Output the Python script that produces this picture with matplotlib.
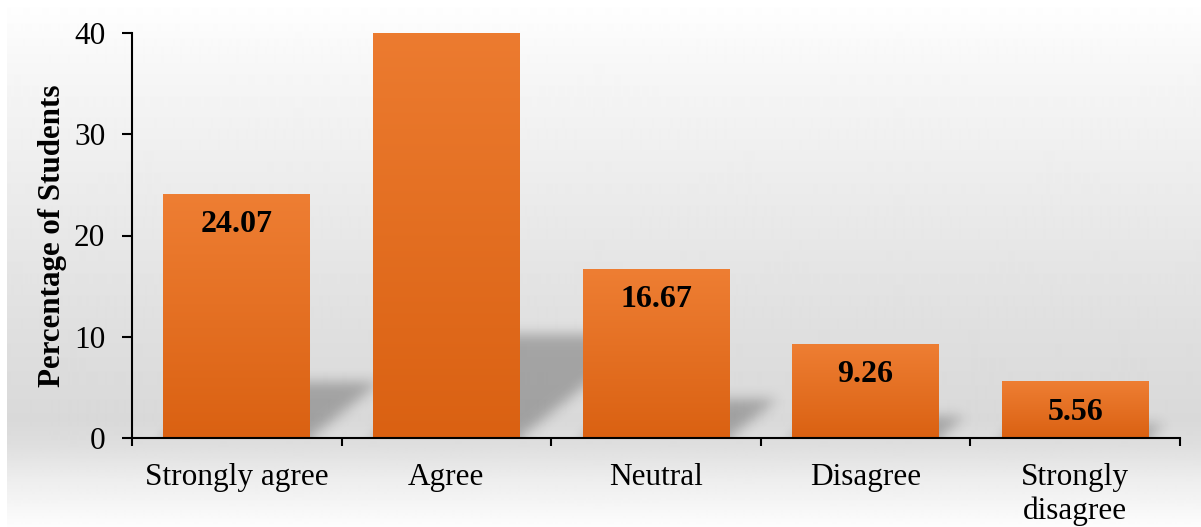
import numpy as np
import matplotlib
matplotlib.use("Agg")
import matplotlib.pyplot as plt
from matplotlib.path import Path
from matplotlib.colors import LinearSegmentedColormap

categories = ["Strongly agree", "Agree", "Neutral", "Disagree", "Strongly\ndisagree"]
values = [24.07, 44.44, 16.67, 9.26, 5.56]
yticks = [0, 10, 20, 30, 40]
ylabel = "Percentage of Students"

plt.rcParams['font.family'] = ['Liberation Serif', 'DejaVu Serif']

FW, FH, DPI = 1201, 527, 100
fig = plt.figure(figsize=(FW / DPI, FH / DPI), dpi=DPI)

# ---- background gradient ----
bg = fig.add_axes([0, 0, 1, 1], zorder=-10)
bg.set_axis_off()
stops_y = np.array([0, 60, 200, 330, 420, 445, 480, 527]) / FH
stops_v = np.array([1.0, 0.97, 0.92, 0.875, 0.85, 0.87, 0.93, 0.99])
yy = np.linspace(0, 1, FH)
col = np.interp(yy, stops_y, stops_v)
img = np.repeat(col[:, None], 2, axis=1)
bg.imshow(img, cmap='gray', vmin=0, vmax=1, extent=[0, 1, 0, 1],
          aspect='auto', interpolation='bilinear')
bg.add_patch(plt.Rectangle((0, 0), 7 / FW, 1, color='white', lw=0))
bg.set_xlim(0, 1)
bg.set_ylim(0, 1)

# ---- main axes ----
ax = fig.add_axes([132 / FW, 1 - 438 / FH, (1180 - 132) / FW, (438 - 33) / FH])
ax.set_facecolor('none')
n = len(values)
x = np.arange(n)
bw = 0.70

# ---- soft shadows ----
nx, ny = 1048, 460
ext = [-0.5, n - 0.5, -4, 40]
gx = np.linspace(ext[0], ext[1], nx)
gy = np.linspace(ext[2], ext[3], ny)
GX, GY = np.meshgrid(gx, gy)
pts = np.column_stack([GX.ravel(), GY.ravel()])
mask = np.zeros(GX.shape)
for xi, v in zip(x, values):
    top = 0.23 * v
    sh = 0.0139 * v
    xl, xr = xi - bw / 2, xi + bw / 2
    poly = Path([(xl, -4), (xr, -4), (xr, 0), (xr + sh, top), (xl + sh, top), (xl, 0)])
    m = poly.contains_points(pts).reshape(GX.shape)
    mask = np.maximum(mask, m.astype(float))


def blur(a, s):
    r = int(3 * s)
    k = np.exp(-0.5 * (np.arange(-r, r + 1) / s) ** 2)
    k /= k.sum()
    a = np.apply_along_axis(lambda row: np.convolve(row, k, mode='same'), 1, a)
    a = np.apply_along_axis(lambda c: np.convolve(c, k, mode='same'), 0, a)
    return a


mask = blur(mask, 6.5)
rgba = np.zeros(mask.shape + (4,))
rgba[..., 3] = 0.26 * mask
ax.imshow(rgba, extent=ext, origin='lower', aspect='auto', zorder=1,
          interpolation='bilinear')

# ---- gradient bars ----
bars = ax.bar(x, values, width=bw, color='none', edgecolor='none', zorder=2)
cmap = LinearSegmentedColormap.from_list('o', ['#DA6112', '#EE7E33'])
grad = np.linspace(0, 1, 200)[:, None]
for b, v in zip(bars, values):
    ax.imshow(grad, cmap=cmap, extent=[b.get_x(), b.get_x() + b.get_width(), 0, v],
              origin='lower', aspect='auto', zorder=2, interpolation='bilinear')

for xi, v in zip(x, values):
    ax.text(xi, v - 3, f"{v:.2f}", ha='center', va='center', fontweight='bold',
            fontsize=23, zorder=3, clip_on=True)

ax.set_xlim(-0.5, n - 0.5)
ax.set_ylim(0, 40)

# ---- axes styling ----
for s in ['top', 'right']:
    ax.spines[s].set_visible(False)
for s in ['left', 'bottom']:
    ax.spines[s].set_linewidth(1.5)
    ax.spines[s].set_color('black')
    ax.spines[s].set_zorder(4)

ax.set_yticks(yticks)
ax.tick_params(axis='y', direction='out', length=7.2, width=1.5, pad=12,
               labelsize=22.5, colors='black')
ax.set_xticks(np.arange(-0.5, n, 1.0))
ax.set_xticklabels([])
ax.tick_params(axis='x', which='major', direction='out', length=5.8, width=1.5)
ax.set_xticks(x, minor=True)
ax.set_xticklabels(categories, minor=True)
ax.tick_params(axis='x', which='minor', length=0, pad=18, labelsize=22.5)

ax.set_ylabel(ylabel, fontweight='bold', fontsize=22.3, va='center', ha='center')
ax.yaxis.set_label_coords(-0.076, 0.5)

fig.savefig('out.png', dpi=DPI)
